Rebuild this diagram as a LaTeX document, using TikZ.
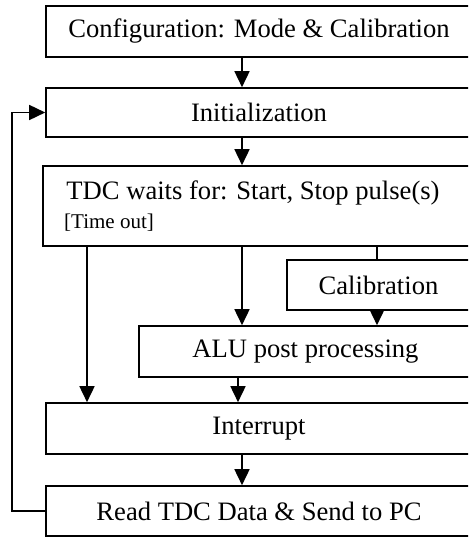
\documentclass[tikz,border=0pt]{standalone}
\usepackage{fontspec}
\setmainfont{Liberation Serif}
\usetikzlibrary{arrows.meta}
\begin{document}
\begin{tikzpicture}[x=1pt,y=-1pt,
  box/.style={draw,line width=1.6pt,rectangle,inner sep=0pt,font=\fontsize{26.6}{28}\selectfont},
  arr/.style={line width=1.6pt,-{Triangle[length=16pt,width=15pt]}},
  ln/.style={line width=1.6pt}]
\clip (0,0) rectangle (468,537);
\useasboundingbox (0,0) rectangle (468,537);
\node[box,minimum width=426pt,minimum height=51pt] (cfg) at (259,31.5) {Configuration: Mode \& Calibration};
\node[box,minimum width=426pt,minimum height=49pt] (init) at (259,112.5) {Initialization};
\node[box,minimum width=429pt,minimum height=80pt] (tdc) at (257.5,206) {};
\node[anchor=base,inner sep=0pt,font=\fontsize{26.6}{28}\selectfont] (tdct) at (253,200) {TDC waits for: Start, Stop pulse(s)};
\node[anchor=base west,inner sep=0pt,font=\fontsize{21}{23}\selectfont] (tmo) at (64,228) {[Time out]};
\node[box,minimum width=183pt,minimum height=50pt] (cal) at (378.5,285) {Calibration};
\node[box,minimum width=333pt,minimum height=51pt] (alu) at (305.5,351.5) {ALU post processing};
\node[box,minimum width=426pt,minimum height=51pt] (intr) at (259,428.5) {Interrupt};
\node[box,minimum width=426pt,minimum height=50pt] (read) at (259,511) {Read TDC Data \& Send to PC};
\coordinate (xa) at (242,0);
\coordinate (xl) at (87,0);
\coordinate (xc) at (377,0);
\coordinate (xb) at (238,0);
\coordinate (lp) at (12,511);
\draw[arr] (cfg.south -| xa) -- (init.north -| xa);
\draw[arr] (init.south -| xa) -- (tdc.north -| xa);
\draw[arr] (tdc.south -| xa) -- (alu.north -| xa);
\draw[ln] (tdc.south -| xc) -- (cal.north -| xc);
\draw[arr] (cal.south -| xc) -- (alu.north -| xc);
\draw[arr] (tdc.south -| xl) -- (intr.north -| xl);
\draw[arr] (alu.south -| xb) -- (intr.north -| xb);
\draw[arr] (intr.south -| xa) -- (read.north -| xa);
\draw[arr] (read.west) -- (lp) |- (init.west);
\end{tikzpicture}
\end{document}
